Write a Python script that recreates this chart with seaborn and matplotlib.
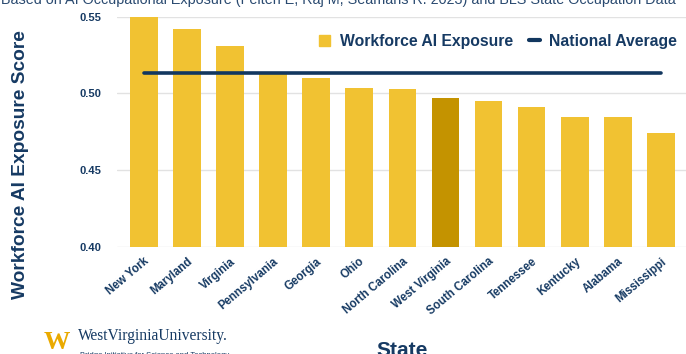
import matplotlib
matplotlib.use("Agg")
import matplotlib.pyplot as plt
import seaborn as sns
import pandas as pd
from matplotlib.patches import Patch
from matplotlib.lines import Line2D

# data
states = ["New York", "Maryland", "Virginia", "Pennsylvania", "Georgia", "Ohio",
          "North Carolina", "West Virginia", "South Carolina", "Tennessee",
          "Kentucky", "Alabama", "Mississippi"]
exposure = [0.5498, 0.5418, 0.5310, 0.5126, 0.5100, 0.5035, 0.5027, 0.4969,
            0.4948, 0.4913, 0.4847, 0.4847, 0.4743]
national_average = 0.5135
y_ticks = [0.40, 0.45, 0.50, 0.55]

navy = "#163a63"
gold = "#F1C232"
gold_dark = "#C49300"

sns.set_theme(style="white")
plt.rcParams["font.family"] = ["Liberation Sans", "DejaVu Sans"]

df = pd.DataFrame({"state": states, "exposure": exposure})
df["avg"] = national_average
palette = {s: (gold_dark if s == "West Virginia" else gold) for s in states}

fig = plt.figure(figsize=(6.86, 3.54), dpi=100)
ax = fig.add_axes([0.1706, 0.302, 0.8294, 0.651])

ax.grid(axis="y", color="#e2e2e2", linewidth=1.0, zorder=0)
ax.set_axisbelow(True)

sns.barplot(data=df, x="state", y="exposure", hue="state", palette=palette,
            width=0.64, saturation=1, legend=False, ax=ax, zorder=2,
            linewidth=0)
sns.lineplot(data=df, x="state", y="avg", color="#12375f", linewidth=2.6,
             ax=ax, zorder=3)

ax.set_ylim(0.40, 0.55)
ax.set_xlim(-0.62, 12.58)
ax.set_yticks(y_ticks)
ax.set_yticklabels([f"{v:.2f}" for v in y_ticks], fontsize=8,
                   fontweight="bold", color=navy)
ax.tick_params(axis="y", length=0, pad=11)
ax.tick_params(axis="x", length=0, pad=6)
ax.set_xticks(range(len(states)))
ax.set_xticklabels(states, rotation=40, ha="right", va="top",
                   rotation_mode="anchor", fontsize=8.3, fontweight="bold",
                   color=navy)
ax.set_xlabel("")
ax.set_ylabel("")
for sp in ax.spines.values():
    sp.set_visible(False)

handles = [Patch(facecolor=gold, edgecolor=gold),
           Line2D([0], [0], color="#12375f", linewidth=3)]
leg = ax.legend(handles, ["Workforce AI Exposure", "National Average"],
                loc="upper right", bbox_to_anchor=(1.009, 0.987), ncol=2,
                frameon=False, handlelength=0.7, handleheight=0.7,
                handletextpad=0.6, columnspacing=1.0,
                prop={"size": 11.3, "weight": "bold"})
for t in leg.get_texts():
    t.set_color(navy)

# axis titles
fig.text(0.030, 0.534, "Workforce AI Exposure Score", rotation=90,
         ha="center", va="center", fontsize=13.8, fontweight="bold", color=navy)
fig.text(0.586, 0.036, "State", ha="center", va="top", fontsize=15,
         fontweight="bold", color=navy)

# subtitle cut off at the top edge
fig.text(0.493, 1.0, "Based on AI Occupational Exposure (Felten E, Raj M, Seamans R. 2023) "
         "and BLS State Occupation Data", ha="center", va="center",
         fontsize=10.4, color="#2a4a70")

# university mark at bottom left
fig.text(0.064, 0.0, "W", ha="left", va="bottom", fontsize=19,
         fontweight="bold", color="#EAAA00", family="Liberation Serif")
fig.text(0.113, 0.028, "WestVirginiaUniversity.", ha="left", va="bottom",
         fontsize=11.2, color=navy, family="Liberation Serif")
fig.text(0.116, -0.014, "Bridge Initiative for Science and Technology",
         ha="left", va="bottom", fontsize=5.5, color=navy)

fig.savefig("out.png", dpi=100)
